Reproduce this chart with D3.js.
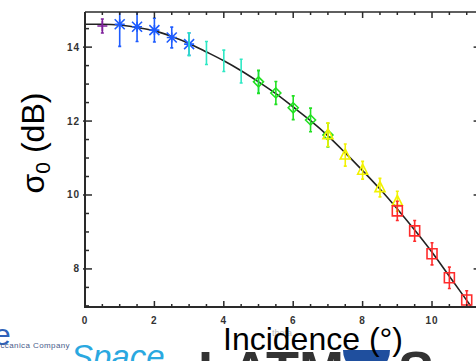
<!DOCTYPE html>
<html>
<head>
<meta charset="utf-8">
<script src="https://cdn.jsdelivr.net/npm/d3@7"></script>
<style>
  html, body { margin: 0; padding: 0; background: #fff; }
  svg { display: block; }
</style>
</head>
<body>
<svg id="chart" width="476" height="361"></svg>
<script>
// ---- data ----
const purpleX = [0.5];
const purpleY = [14.57];
const purpleErr = [0.19];

const blueX = [1, 1.5, 2, 2.5, 3];
const blueY = [14.62, 14.55, 14.46, 14.26, 14.08];
const blueErr = [0.6, 0.4, 0.32, 0.28, 0.3];

const cyanX = [3, 3.5, 4, 4.5, 5];
const cyanY = [14.08, 13.84, 13.63, 13.35, 13.06];
const cyanErr = [0.31, 0.31, 0.29, 0.32, 0.3];

const greenX = [5, 5.5, 6, 6.5, 7];
const greenY = [13.06, 12.76, 12.36, 12.03, 11.62];
const greenErr = [0.31, 0.31, 0.32, 0.32, 0.32];

const yellowX = [7, 7.5, 8, 8.5, 9];
const yellowY = [11.63, 11.08, 10.67, 10.2, 9.83];
const yellowErr = [0.32, 0.3, 0.24, 0.25, 0.27];

const redX = [9, 9.5, 10, 10.5, 11];
const redY = [9.57, 9.03, 8.41, 7.76, 7.16];
const redErr = [0.26, 0.28, 0.3, 0.29, 0.25];

const fitX = [0, 0.5, 1, 1.5, 2, 2.5, 3, 3.5, 4, 4.5, 5, 5.5, 6, 6.5, 7, 7.5, 8, 8.5, 9, 9.5, 10, 10.5, 11, 11.5];
const fitY = [14.62, 14.62, 14.6, 14.53, 14.44, 14.29, 14.1, 13.87, 13.63, 13.36, 13.06, 12.74, 12.38, 12.01, 11.6, 11.14, 10.66, 10.16, 9.62, 9.05, 8.45, 7.8, 7.15, 6.5];

const xMajorTicks = [0, 2, 4, 6, 8, 10];
const yMajorTicks = [8, 10, 12, 14];

// ---- layout ----
const svg = d3.select("#chart");
const pLeft = 85, pRight = 480.6, pTop = 12, pBottom = 307;
const x = d3.scaleLinear().domain([0, 11.4]).range([pLeft, pRight]);
const y = d3.scaleLinear().domain([6.97, 14.95]).range([pBottom, pTop]);

const series = [
  { xs: purpleX, ys: purpleY, es: purpleErr, color: "#7d1f9a", marker: "plus" },
  { xs: blueX, ys: blueY, es: blueErr, color: "#1e5cff", marker: "asterisk" },
  { xs: cyanX, ys: cyanY, es: cyanErr, color: "#2ee8c4", marker: "none" },
  { xs: greenX, ys: greenY, es: greenErr, color: "#22e022", marker: "diamond" },
  { xs: yellowX, ys: yellowY, es: yellowErr, color: "#f2f200", marker: "triangle" },
  { xs: redX, ys: redY, es: redErr, color: "#ff2b2b", marker: "square" }
];

// ---- background logos (slide residue) ----
const font = "Liberation Sans, Arial, sans-serif";
const bg = svg.append("g");
bg.append("text").attr("x", -6).attr("y", 345).attr("font-family", font)
  .attr("font-size", 30).attr("fill", "#2f62b8").text("e");
bg.append("text").attr("x", 70).attr("y", 348).attr("text-anchor", "end")
  .attr("font-family", font).attr("font-size", 8).attr("letter-spacing", 0.4).attr("fill", "#4a5c8a")
  .text("a Finmeccanica Company");
bg.append("text").attr("x", 71).attr("y", 368).attr("font-family", font)
  .attr("font-size", 33).attr("font-style", "italic").attr("fill", "#2aa8e0").text("Space");
bg.append("text").attr("x", 198).attr("y", 389).attr("font-family", font)
  .attr("font-size", 54).attr("font-weight", "bold").attr("fill", "#333").text("LATM");
bg.append("path").attr("d", "M343,350 H390 A23.5,23.5 0 0 1 343,350 Z").attr("fill", "#1f4f9e");
bg.append("text").attr("x", 398).attr("y", 389).attr("font-family", font)
  .attr("font-size", 54).attr("font-weight", "bold").attr("fill", "#333").text("S");
bg.append("text").attr("x", 272).attr("y", 336).attr("font-family", font)
  .attr("font-size", 9).attr("fill", "#bbb").text("theta");

// ---- clip ----
svg.append("clipPath").attr("id", "plotclip").append("rect")
  .attr("x", pLeft).attr("y", pTop).attr("width", pRight - pLeft).attr("height", pBottom - pTop);

const plot = svg.append("g").attr("clip-path", "url(#plotclip)");

// fit curve
const line = d3.line().x((d, i) => x(fitX[i])).y((d, i) => y(fitY[i])).curve(d3.curveMonotoneX);
plot.append("path").datum(fitY).attr("d", line).attr("fill", "none").attr("stroke", "#222").attr("stroke-width", 1.6);

// markers
function markerPath(type, cx, cy) {
  const s = 5;
  switch (type) {
    case "plus":
      return `M${cx - s},${cy}H${cx + s}M${cx},${cy - s}V${cy + s}`;
    case "asterisk":
      return `M${cx - s},${cy}H${cx + s}M${cx},${cy - s}V${cy + s}` +
        `M${cx - s},${cy - s}L${cx + s},${cy + s}M${cx - s},${cy + s}L${cx + s},${cy - s}`;
    case "diamond":
      return `M${cx},${cy - s}L${cx + s},${cy}L${cx},${cy + s}L${cx - s},${cy}Z`;
    case "triangle":
      return `M${cx},${cy - s - 1}L${cx + s},${cy + s - 1}L${cx - s},${cy + s - 1}Z`;
    case "square":
      return `M${cx - s},${cy - s}H${cx + s}V${cy + s}H${cx - s}Z`;
    default:
      return "";
  }
}

series.forEach(sr => {
  const g = plot.append("g");
  const pts = sr.xs.map((v, i) => ({ x: v, y: sr.ys[i], e: sr.es[i] }));
  g.selectAll("path.err").data(pts).enter().append("path")
    .attr("d", d => {
      const cx = x(d.x), y1 = y(d.y + d.e), y2 = y(d.y - d.e);
      return `M${cx},${y1}V${y2}M${cx - 1.5},${y1}H${cx + 1.5}M${cx - 1.5},${y2}H${cx + 1.5}`;
    })
    .attr("stroke", sr.color).attr("stroke-width", 1.6).attr("fill", "none");
  if (sr.marker !== "none") {
    g.selectAll("path.mk").data(pts).enter().append("path")
      .attr("d", d => markerPath(sr.marker, x(d.x), y(d.y)))
      .attr("stroke", sr.color).attr("stroke-width", 1.6).attr("fill", "none");
  }
});

// ---- axes / frame ----
const axisColor = "#2a2a2a";
const frame = svg.append("g");
frame.append("line").attr("x1", pLeft).attr("x2", pLeft).attr("y1", pTop).attr("y2", pBottom)
  .attr("stroke", axisColor).attr("stroke-width", 2);
frame.append("line").attr("x1", pLeft - 1).attr("x2", pRight).attr("y1", pBottom).attr("y2", pBottom)
  .attr("stroke", axisColor).attr("stroke-width", 2);
frame.append("line").attr("x1", pLeft).attr("x2", pRight).attr("y1", pTop).attr("y2", pTop)
  .attr("stroke", axisColor).attr("stroke-width", 1.6);
frame.append("line").attr("x1", pRight).attr("x2", pRight).attr("y1", pTop).attr("y2", pBottom)
  .attr("stroke", axisColor).attr("stroke-width", 1.6);

const xMinor = d3.range(0, 11.41, 0.5);
const yMinor = d3.range(7, 14.96, 0.5);
const isMajorX = v => xMajorTicks.includes(v);
const isMajorY = v => yMajorTicks.includes(v);

frame.selectAll("line.xb").data(xMinor).enter().append("line")
  .attr("x1", d => x(d)).attr("x2", d => x(d))
  .attr("y1", pBottom).attr("y2", d => pBottom - (isMajorX(d) ? 6 : 3))
  .attr("stroke", axisColor).attr("stroke-width", 1.5);
frame.selectAll("line.xt").data(xMinor).enter().append("line")
  .attr("x1", d => x(d)).attr("x2", d => x(d))
  .attr("y1", pTop).attr("y2", d => pTop + (isMajorX(d) ? 6 : 3))
  .attr("stroke", axisColor).attr("stroke-width", 1.5);
frame.selectAll("line.yl").data(yMinor).enter().append("line")
  .attr("y1", d => y(d)).attr("y2", d => y(d))
  .attr("x1", d => pLeft - (isMajorY(d) ? 2 : 0)).attr("x2", d => pLeft + (isMajorY(d) ? 7 : 4))
  .attr("stroke", axisColor).attr("stroke-width", 1.5);
frame.selectAll("line.yr").data(yMinor).enter().append("line")
  .attr("y1", d => y(d)).attr("y2", d => y(d))
  .attr("x1", pRight).attr("x2", d => pRight - (isMajorY(d) ? 7 : 4))
  .attr("stroke", axisColor).attr("stroke-width", 1.5);

frame.selectAll("text.xl").data(xMajorTicks).enter().append("text")
  .attr("x", d => x(d)).attr("y", 324).attr("text-anchor", "middle")
  .attr("font-family", font).attr("font-size", 10).attr("font-weight", "bold")
  .attr("letter-spacing", 1).attr("fill", "#333").text(d => d);
frame.selectAll("text.yl").data(yMajorTicks).enter().append("text")
  .attr("x", 80).attr("y", d => y(d) + 3.5).attr("text-anchor", "end")
  .attr("font-family", font).attr("font-size", 10).attr("font-weight", "bold")
  .attr("letter-spacing", 1).attr("fill", "#333").text(d => d);

// axis titles
svg.append("text").attr("x", 223).attr("y", 350)
  .attr("font-family", font).attr("font-size", 32).attr("fill", "#000")
  .text("Incidence (°)");

const yt = svg.append("text").attr("transform", "translate(44,143) rotate(-90)")
  .attr("text-anchor", "middle")
  .attr("font-family", font).attr("font-size", 32).attr("fill", "#000");
yt.append("tspan").text("σ");
yt.append("tspan").attr("font-size", 21).attr("dy", 6).text("0");
yt.append("tspan").attr("dy", -6).text(" (dB)");
</script>
</body>
</html>
